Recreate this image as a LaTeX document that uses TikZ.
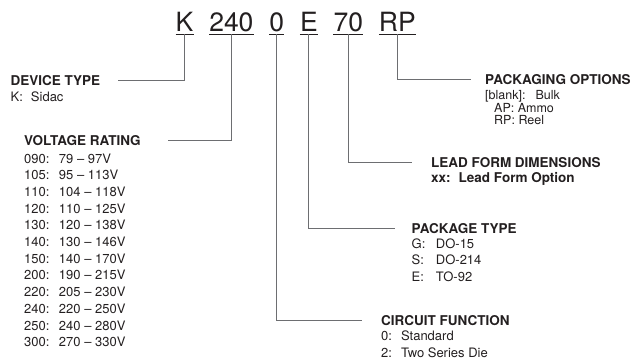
\documentclass[tikz,border=0pt]{standalone}
\usepackage{fontspec}
\setmainfont{TeX Gyre Heros}
\usetikzlibrary{positioning}
\definecolor{ink}{HTML}{231F20}
\definecolor{leadgray}{HTML}{6D6E71}

\begin{document}
\begin{tikzpicture}[
  x=1pt, y=-1pt,
  node distance=15.5pt,
  code/.style={inner sep=0pt,text=ink,font=\fontsize{26.5}{30}\selectfont},
  head/.style={inner sep=0pt,anchor=base west,text=ink,font=\fontsize{13.5}{16}\selectfont\bfseries},
  body/.style={inner sep=0pt,anchor=base west,text=ink,font=\fontsize{13}{16.7}\selectfont},
  uline/.style={draw=ink,line width=1.3pt},
  lead/.style={draw=leadgray,line width=0.8pt}
]
\useasboundingbox (0,0) rectangle (635,362);

% part number
\node[code,anchor=base west] (c-type) at (175.5,31.7) {K};
\node[code,base right=of c-type] (c-volt) {240};
\node[code,base right=of c-volt] (c-circ) {0};
\node[code,base right=of c-circ] (c-pkg) {E};
\node[code,base right=of c-pkg] (c-lead) {70};
\node[code,base right=of c-lead] (c-opt) {RP};
\foreach \n in {c-type,c-volt,c-circ,c-pkg,c-lead,c-opt}
  \draw[uline] ([yshift=-2.6pt]\n.base west) -- ([yshift=-2.6pt]\n.base east);

% field titles
\node[head] (type) at (10.5,85.5) {DEVICE TYPE};
\node[head] (volt) at (24,145) {VOLTAGE RATING};
\node[head] (opt) at (485,84) {PACKAGING OPTIONS};
\node[head] (lead) at (431,167) {LEAD FORM DIMENSIONS};
\node[head] (pkg) at (411.5,233) {PACKAGE TYPE};
\node[head] (circ) at (381,325) {CIRCUIT FUNCTION};

% field values
\node[body] (type-list) at ([yshift=-16pt]type.base west)
  {\begin{tabular}[t]{@{}l@{\hspace{8pt}}l@{}}K: & Sidac\end{tabular}};
\node[body] (volt-list) at ([yshift=-18pt]volt.base west)
  {\begin{tabular}[t]{@{}l@{\hspace{9.5pt}}l@{}}
   090: & 79 – 97V\\ 105: & 95 – 113V\\ 110: & 104 – 118V\\ 120: & 110 – 125V\\
   130: & 120 – 138V\\ 140: & 130 – 146V\\ 150: & 140 – 170V\\ 200: & 190 – 215V\\
   220: & 205 – 230V\\ 240: & 220 – 250V\\ 250: & 240 – 280V\\ 300: & 270 – 330V
   \end{tabular}};
\node[body,font=\fontsize{12.5}{11.8}\selectfont] (opt-list) at ([yshift=-15.5pt]opt.base west)
  {\begin{tabular}[t]{@{}l@{}}[blank]:\hspace{10pt}Bulk\\ \hspace{9pt}AP: Ammo\\ \hspace{9pt}RP: Reel\end{tabular}};
\node[body,font=\fontsize{13.5}{16}\selectfont\bfseries] (lead-list) at ([yshift=-15pt]lead.base west)
  {\begin{tabular}[t]{@{}l@{\hspace{8pt}}l@{}}xx: & Lead Form Option\end{tabular}};
\node[body] (pkg-list) at ([yshift=-15pt]pkg.base west)
  {\begin{tabular}[t]{@{}l@{\hspace{10.5pt}}l@{}}G: & DO-15\\ S: & DO-214\\ E: & TO-92\end{tabular}};
\node[body] (circ-list) at ([yshift=-15.7pt]circ.base west)
  {\begin{tabular}[t]{@{}l@{\hspace{9pt}}l@{}}0: & Standard\\ 2: & Two Series Die\end{tabular}};

% leaders
\draw[lead,shorten >=18pt] ([yshift=-2.6pt]c-type.base) |- (type.east);
\draw[lead,shorten >=27pt] ([yshift=-2.6pt]c-volt.base) |- (volt.east);
\draw[lead,shorten >=19.5pt] ([yshift=-2.6pt]c-circ.base) |- (circ.west);
\draw[lead,shorten >=17pt] ([yshift=-2.6pt]c-pkg.base) |- (pkg.west);
\draw[lead,shorten >=19.5pt] ([yshift=-2.6pt]c-lead.base) |- (lead.west);
\draw[lead,shorten >=14.5pt] ([yshift=-2.6pt]c-opt.base) |- (opt.west);
\end{tikzpicture}
\end{document}
